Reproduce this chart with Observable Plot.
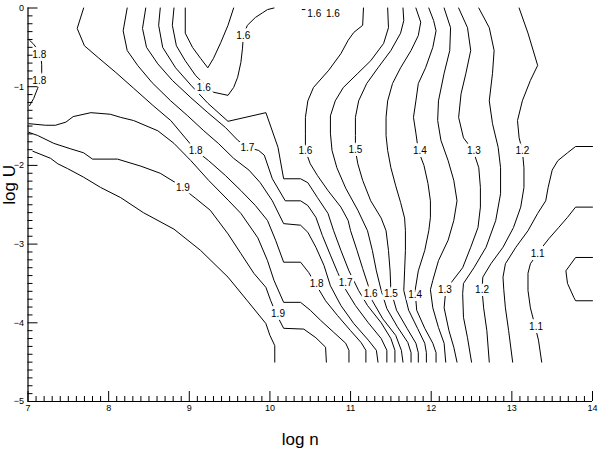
<!DOCTYPE html>
<html><head><meta charset="utf-8">
<script src="https://cdn.jsdelivr.net/npm/d3@7"></script>
<script src="https://cdn.jsdelivr.net/npm/@observablehq/plot@0.6"></script>
<style>
body{margin:0;background:#fff;}
#chart svg{font-family:"Liberation Sans",Arial,Helvetica,sans-serif;}
</style>
</head><body><div id="chart"></div>
<script>
// x: log n, y: log U ; each contour line is a list of [log n, log U] points
const lineS1 = [[8.64,0],[8.62,-0.22],[8.67,-0.50],[8.83,-0.76],[9.02,-0.98],[9.23,-1.21],[9.48,-1.44],[9.95,-1.33],[10.10,-1.77],[10.17,-2.17],[10.38,-2.17],[10.47,-2.22],[10.59,-2.41],[10.72,-2.61],[10.79,-2.83],[10.88,-3.08],[10.98,-3.34],[11.10,-3.59],[11.21,-3.78],[11.38,-4.00],[11.50,-4.20],[11.55,-4.35],[11.55,-4.5]];
const lineS2 = [[8.46,0],[8.42,-0.26],[8.47,-0.50],[8.61,-0.71],[8.79,-0.92],[9.02,-1.14],[9.23,-1.33],[9.45,-1.52],[9.60,-1.68],[9.72,-1.77],[9.86,-1.81],[9.93,-1.87],[10.03,-2.17],[10.19,-2.45],[10.38,-2.45],[10.47,-2.51],[10.57,-2.66],[10.65,-2.89],[10.75,-3.14],[10.84,-3.36],[10.94,-3.58],[11.06,-3.78],[11.22,-4.00],[11.38,-4.20],[11.45,-4.35],[11.45,-4.5]];
const lineS3 = [[8.23,0],[8.18,-0.29],[8.23,-0.54],[8.36,-0.73],[8.54,-0.95],[8.77,-1.18],[8.98,-1.37],[9.18,-1.56],[9.36,-1.72],[9.55,-1.91],[9.74,-2.06],[9.88,-2.22],[10.03,-2.45],[10.17,-2.74],[10.38,-2.76],[10.47,-2.85],[10.57,-3.04],[10.67,-3.27],[10.75,-3.53],[10.88,-3.78],[11.04,-4.01],[11.22,-4.22],[11.32,-4.35],[11.34,-4.5]];
const lineS4 = [[7.69,0],[7.61,-0.26],[7.70,-0.48],[7.87,-0.63],[8.09,-0.82],[8.31,-1.02],[8.54,-1.23],[8.77,-1.43],[8.95,-1.65],[9.08,-1.81],[9.24,-1.94],[9.45,-2.13],[9.64,-2.32],[9.82,-2.51],[9.97,-2.70],[10.07,-2.95],[10.17,-3.23],[10.38,-3.23],[10.48,-3.36],[10.58,-3.53],[10.69,-3.72],[10.84,-3.91],[11.00,-4.10],[11.13,-4.25],[11.19,-4.35],[11.19,-4.5]];
const lineS5 = [[7.01,-1.47],[7.22,-1.49],[7.34,-1.49],[7.47,-1.45],[7.56,-1.38],[7.78,-1.33],[8.02,-1.35],[8.15,-1.39],[8.31,-1.43],[8.61,-1.56],[8.81,-1.72],[9.02,-1.94],[9.24,-2.19],[9.49,-2.45],[9.64,-2.61],[9.85,-2.92],[9.97,-3.21],[10.05,-3.46],[10.17,-3.74],[10.38,-3.74],[10.50,-3.84],[10.63,-3.97],[10.79,-4.12],[10.94,-4.26],[10.98,-4.35],[10.98,-4.5]];
const lineS6 = [[7.01,-1.58],[7.12,-1.62],[7.32,-1.72],[7.53,-1.79],[7.69,-1.84],[7.80,-1.92],[8.11,-1.92],[8.40,-2.01],[8.64,-2.10],[8.83,-2.22],[9.08,-2.42],[9.26,-2.57],[9.48,-2.87],[9.64,-3.12],[9.80,-3.37],[9.95,-3.55],[10.01,-3.72],[10.08,-3.89],[10.17,-4.07],[10.42,-4.08],[10.57,-4.19],[10.69,-4.31],[10.70,-4.5]];
const lineS7 = [[7.06,-1.82],[7.28,-1.91],[7.37,-1.98],[7.49,-2.04],[7.69,-2.15],[7.90,-2.28],[8.15,-2.41],[8.43,-2.60],[8.81,-2.81],[9.14,-3.08],[9.48,-3.42],[9.72,-3.72],[9.95,-4.01],[10.00,-4.16],[10.06,-4.29],[10.06,-4.5]];
const lineArc = [[7.02,-0.41],[7.07,-0.46],[7.12,-0.53],[7.16,-0.62],[7.17,-0.72],[7.17,-0.82],[7.16,-0.91],[7.12,-1.02],[7.07,-1.15],[7.02,-1.24]];
const lineU = [[8.81,0],[8.79,-0.22],[8.84,-0.48],[8.95,-0.67],[9.08,-0.86],[9.20,-0.98],[9.30,-1.07],[9.48,-1.11],[9.55,-1.01],[9.60,-0.88],[9.64,-0.69],[9.66,-0.51],[9.67,-0.35],[9.72,-0.22],[9.82,-0.12],[9.91,-0.06],[9.97,-0.02],[10.05,0]];
const lineV = [[8.95,0],[8.95,-0.32],[9.04,-0.50],[9.14,-0.64],[9.23,-0.76],[9.30,-0.64],[9.39,-0.44],[9.48,-0.22],[9.55,0]];
const lineBit = [[10.40,-0.02],[10.45,-0.02],[10.46,-0.04]];
const lineR1 = [[11.16,0],[11.15,-0.22],[11.04,-0.31],[10.97,-0.41],[10.88,-0.58],[10.73,-0.79],[10.54,-1.01],[10.47,-1.18],[10.44,-1.39],[10.44,-1.59],[10.44,-1.81],[10.50,-1.98],[10.59,-2.13],[10.72,-2.32],[10.88,-2.53],[10.97,-2.70],[11.00,-2.83],[11.08,-3.08],[11.15,-3.31],[11.22,-3.53],[11.27,-3.72],[11.40,-3.95],[11.56,-4.16],[11.63,-4.35],[11.65,-4.5]];
const lineR2 = [[11.46,0],[11.47,-0.25],[11.41,-0.45],[11.25,-0.67],[11.09,-0.83],[10.91,-1.01],[10.81,-1.18],[10.75,-1.37],[10.75,-1.59],[10.77,-1.81],[10.83,-2.03],[10.94,-2.29],[11.09,-2.57],[11.21,-2.83],[11.27,-3.08],[11.32,-3.34],[11.38,-3.59],[11.45,-3.82],[11.58,-4.05],[11.71,-4.25],[11.75,-4.38],[11.75,-4.5]];
const lineR3 = [[11.65,0],[11.66,-0.16],[11.62,-0.32],[11.50,-0.54],[11.34,-0.76],[11.20,-0.96],[11.10,-1.18],[11.06,-1.39],[11.06,-1.62],[11.06,-1.81],[11.09,-1.98],[11.15,-2.19],[11.25,-2.45],[11.38,-2.67],[11.44,-2.83],[11.47,-3.08],[11.49,-3.34],[11.50,-3.59],[11.57,-3.84],[11.70,-4.07],[11.81,-4.26],[11.84,-4.38],[11.84,-4.5]];
const lineR4 = [[11.81,0],[11.87,-0.18],[11.84,-0.35],[11.75,-0.54],[11.62,-0.76],[11.52,-0.96],[11.46,-1.18],[11.44,-1.39],[11.44,-1.62],[11.46,-1.81],[11.50,-2.03],[11.56,-2.26],[11.62,-2.47],[11.67,-2.67],[11.68,-2.83],[11.68,-3.08],[11.67,-3.34],[11.66,-3.59],[11.72,-3.84],[11.83,-4.07],[11.92,-4.26],[11.94,-4.38],[11.94,-4.5]];
const lineR5 = [[11.97,0],[12.03,-0.16],[12.06,-0.29],[12.02,-0.50],[11.93,-0.76],[11.84,-0.96],[11.81,-1.18],[11.78,-1.39],[11.81,-1.59],[11.84,-1.81],[11.91,-2.00],[11.96,-2.23],[11.99,-2.45],[11.99,-2.66],[11.97,-2.83],[11.92,-3.08],[11.84,-3.34],[11.80,-3.59],[11.82,-3.84],[11.92,-4.07],[12.02,-4.26],[12.06,-4.38],[12.06,-4.5]];
const lineR6 = [[12.16,0],[12.24,-0.25],[12.23,-0.54],[12.16,-0.83],[12.09,-1.18],[12.08,-1.43],[12.12,-1.68],[12.21,-1.94],[12.28,-2.19],[12.32,-2.45],[12.28,-2.70],[12.21,-2.95],[12.09,-3.21],[12.02,-3.46],[11.99,-3.58],[12.02,-3.81],[12.09,-4.06],[12.16,-4.26],[12.18,-4.5]];
const lineR7 = [[12.34,0],[12.45,-0.25],[12.49,-0.54],[12.43,-0.83],[12.37,-1.09],[12.34,-1.39],[12.40,-1.65],[12.52,-1.81],[12.59,-2.03],[12.61,-2.28],[12.61,-2.53],[12.58,-2.79],[12.49,-3.04],[12.39,-3.30],[12.24,-3.50],[12.18,-3.59],[12.16,-3.81],[12.22,-4.10],[12.28,-4.31],[12.32,-4.5]];
const lineR8 = [[12.59,0],[12.72,-0.25],[12.78,-0.54],[12.76,-0.83],[12.72,-1.18],[12.76,-1.47],[12.83,-1.77],[12.86,-2.03],[12.86,-2.36],[12.80,-2.70],[12.68,-3.04],[12.53,-3.30],[12.40,-3.50],[12.39,-3.63],[12.40,-3.93],[12.45,-4.19],[12.50,-4.5]];
const lineR9 = [[13.09,0],[13.20,-0.32],[13.32,-0.73],[13.23,-0.92],[13.13,-1.18],[13.07,-1.43],[13.09,-1.65],[13.13,-1.81],[13.15,-2.03],[13.15,-2.28],[13.11,-2.53],[13.02,-2.79],[12.89,-3.04],[12.74,-3.25],[12.64,-3.42],[12.63,-3.58],[12.65,-3.81],[12.69,-4.10],[12.72,-4.5]];
const lineT1 = [[14,-1.76],[13.79,-1.76],[13.69,-1.84],[13.57,-1.94],[13.50,-2.06],[13.45,-2.28],[13.42,-2.45],[13.32,-2.61],[13.20,-2.83],[13.05,-3.04],[12.92,-3.25],[12.89,-3.42],[12.90,-3.58],[12.92,-3.81],[12.96,-4.10],[13.01,-4.5]];
const lineT2 = [[14,-2.53],[13.79,-2.53],[13.69,-2.66],[13.58,-2.79],[13.46,-2.93],[13.36,-3.06],[13.23,-3.25],[13.20,-3.37],[13.20,-3.59],[13.23,-3.81],[13.27,-3.97],[13.33,-4.22],[13.37,-4.5]];
const lineT3 = [[14,-3.17],[13.79,-3.17],[13.67,-3.34],[13.69,-3.50],[13.77,-3.68],[13.79,-3.72],[14,-3.72]];

const contours = [
  {id:"S7", level:1.95, points: lineS7},
  {id:"S6", level:1.9, points: lineS6},
  {id:"S5", level:1.85, points: lineS5},
  {id:"Arc", level:1.85, points: lineArc},
  {id:"S4", level:1.8, points: lineS4},
  {id:"S3", level:1.75, points: lineS3},
  {id:"S2", level:1.7, points: lineS2},
  {id:"S1", level:1.65, points: lineS1},
  {id:"U", level:1.6, points: lineU},
  {id:"V", level:1.55, points: lineV},
  {id:"Bit", level:1.6, points: lineBit},
  {id:"R1", level:1.6, points: lineR1},
  {id:"R2", level:1.55, points: lineR2},
  {id:"R3", level:1.5, points: lineR3},
  {id:"R4", level:1.45, points: lineR4},
  {id:"R5", level:1.4, points: lineR5},
  {id:"R6", level:1.35, points: lineR6},
  {id:"R7", level:1.3, points: lineR7},
  {id:"R8", level:1.25, points: lineR8},
  {id:"R9", level:1.2, points: lineR9},
  {id:"T1", level:1.15, points: lineT1},
  {id:"T2", level:1.1, points: lineT2},
  {id:"T3", level:1.05, points: lineT3}
];

// contour labels
const labelText = ["1.8","1.8","1.6","1.6","1.6","1.6","1.8","1.7","1.9","1.9","1.6","1.5","1.4","1.3","1.2","1.8","1.7","1.6","1.5","1.4","1.3","1.2","1.1","1.1"];
const labelX    = [7.14, 7.14, 9.67, 9.18, 10.55,10.78,9.08, 9.72, 8.92, 10.10,10.44,11.06,11.86,12.53,13.13,10.58,10.94,11.25,11.50,11.80,12.17,12.63,13.32,13.30];
const labelY    = [-0.60,-0.92,-0.35,-1.02,-0.07,-0.07,-1.81,-1.77,-2.29,-3.89,-1.81,-1.80,-1.82,-1.82,-1.82,-3.50,-3.49,-3.63,-3.63,-3.64,-3.58,-3.58,-3.12,-4.05];

const xMajor = [7,8,9,10,11,12,13,14];
const yMajor = [-5,-4,-3,-2,-1,0];
const xMinor = d3.range(70,141).filter(d => d % 10 !== 0).map(d => d/10);
const yMinor = d3.range(-50,1).filter(d => d % 10 !== 0).map(d => d/10);

const rows = contours.flatMap(c => c.points.map(([x,y]) => ({x, y, id: c.id, level: c.level})));
const labels = labelText.map((t,i) => ({text: t, x: labelX[i], y: labelY[i]}));
const intFmt = d => d < 0 ? "\u2212" + Math.abs(d) : String(d);

const chart = Plot.plot({
  width: 600,
  height: 457,
  marginLeft: 27.5,
  marginRight: 8,
  marginTop: 7.5,
  marginBottom: 56,
  style: {background: "white", color: "black", fontFamily: "Liberation Sans, Arial, sans-serif"},
  x: {domain: [7,14], label: null},
  y: {domain: [-5,0], label: null},
  marks: [
    Plot.line(rows, {x:"x", y:"y", z:"id", stroke:"black", strokeWidth:1, curve:"linear"}),
    Plot.text(labels, {x:"x", y:"y", text:"text", fill:"black", stroke:"white", strokeWidth:6, strokeLinejoin:"round", paintOrder:"stroke", fontSize:10}),
    Plot.ruleY([-5], {stroke:"black", strokeWidth:1.2}),
    Plot.ruleX([7], {stroke:"black", strokeWidth:1.2}),
    Plot.axisX(xMinor, {tickSize:5, dy:-5, tickFormat: () => "", label:null, strokeWidth:1}),
    Plot.axisX(xMajor, {tickSize:10, dy:-10, tickFormat: () => "", label:null, strokeWidth:1}),
    Plot.axisX(xMajor, {tickSize:0, tickPadding:3, fontSize:9, label:null, tickFormat: intFmt}),
    Plot.axisY(yMinor, {tickSize:5, dx:5, tickFormat: () => "", label:null, strokeWidth:1}),
    Plot.axisY(yMajor, {tickSize:10, dx:10, tickFormat: () => "", label:null, strokeWidth:1}),
    Plot.axisY(yMajor, {tickSize:0, tickPadding:4, fontSize:9, label:null, tickFormat: intFmt}),
    Plot.text(["log n"], {frameAnchor:"bottom", dy:43, dx:-10, fontSize:17, fill:"black"}),
    Plot.text(["log U"], {frameAnchor:"left", rotate:-90, dx:-18, fontSize:17, fill:"black"})
  ]
});
document.getElementById("chart").appendChild(chart);
</script>
</body></html>
